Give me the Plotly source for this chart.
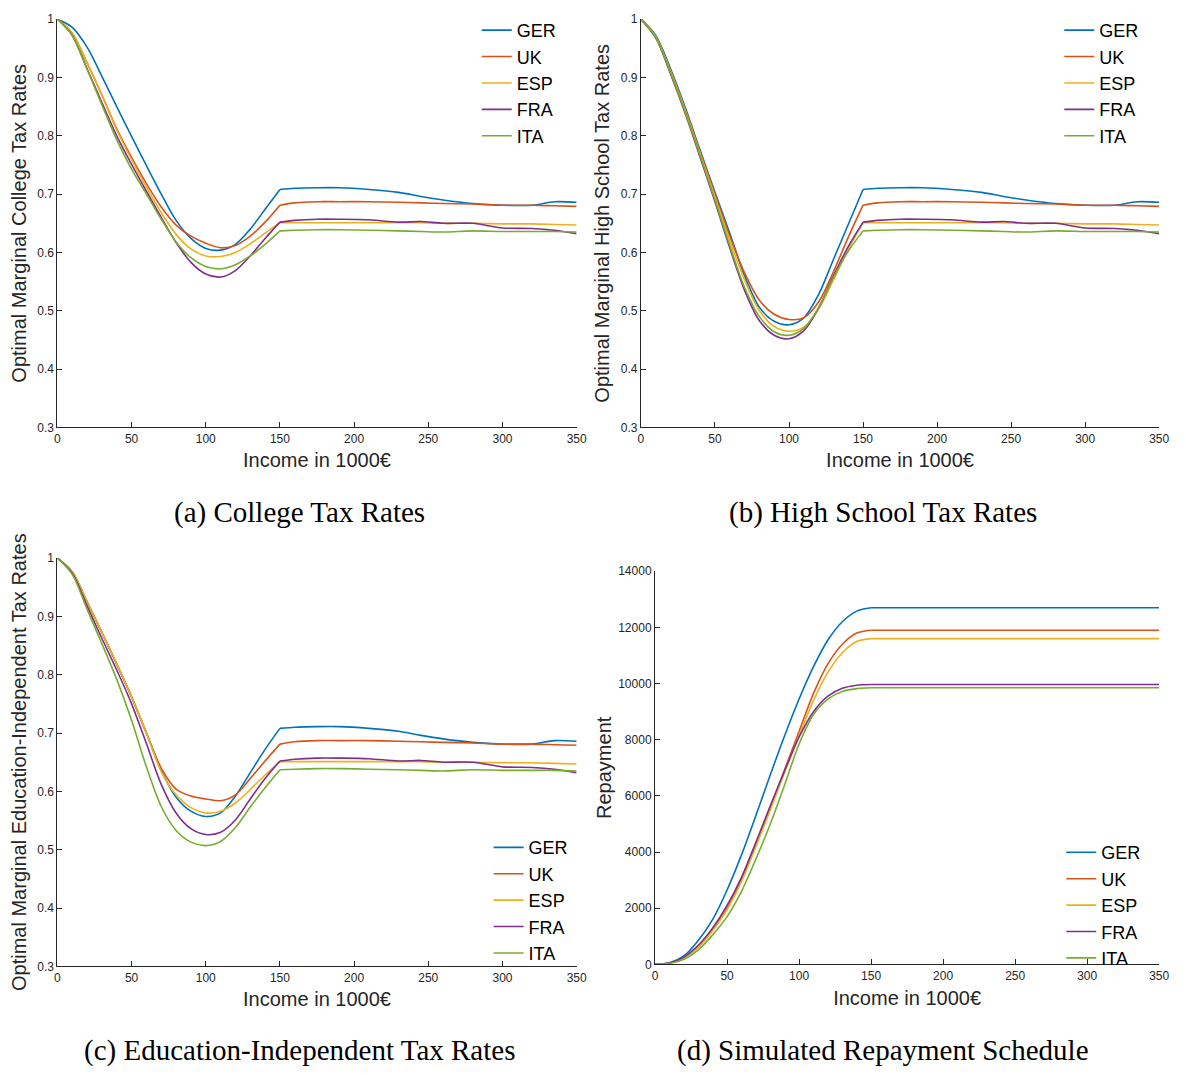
import plotly.graph_objects as go

countries = ["GER", "UK", "ESP", "FRA", "ITA"]
colors = ["#0072BD", "#D95319", "#EDB120", "#7E2F8E", "#77AC30"]

# income grid (1000 EUR)
x_head = [0, 10, 20, 30, 40, 50, 60, 70, 80, 90, 100, 110, 120, 130, 140, 150]
x_tail = [150, 160, 175, 190, 210, 230, 245, 260, 280, 300, 320, 335, 350]

# common top-income part of the optimal marginal tax rates (x >= 150)
tail_GER = [0.708, 0.710, 0.711, 0.711, 0.708, 0.703, 0.696, 0.690, 0.684, 0.681, 0.681, 0.687, 0.686]
tail_UK = [0.681, 0.685, 0.687, 0.687, 0.687, 0.686, 0.685, 0.684, 0.683, 0.681, 0.681, 0.680, 0.679]
tail_ESP = [0.651, 0.651, 0.651, 0.651, 0.651, 0.651, 0.651, 0.650, 0.650, 0.649, 0.649, 0.648, 0.647]
tail_FRA = [0.652, 0.655, 0.657, 0.657, 0.656, 0.652, 0.653, 0.650, 0.650, 0.642, 0.641, 0.638, 0.632]
tail_ITA = [0.637, 0.638, 0.639, 0.639, 0.638, 0.637, 0.636, 0.635, 0.637, 0.636, 0.636, 0.636, 0.635]

# (a) college tax rates, x = 0..150
college_GER = [1.0, 0.986, 0.952, 0.902, 0.850, 0.799, 0.749, 0.700, 0.655, 0.624, 0.607, 0.604, 0.614, 0.640, 0.674, 0.708]
college_UK = [1.0, 0.976, 0.925, 0.870, 0.812, 0.763, 0.718, 0.678, 0.647, 0.628, 0.616, 0.608, 0.612, 0.628, 0.652, 0.681]
college_ESP = [1.0, 0.976, 0.925, 0.869, 0.810, 0.759, 0.712, 0.668, 0.631, 0.606, 0.594, 0.593, 0.600, 0.615, 0.633, 0.651]
college_FRA = [1.0, 0.972, 0.915, 0.857, 0.800, 0.751, 0.705, 0.660, 0.617, 0.583, 0.563, 0.558, 0.569, 0.594, 0.624, 0.652]
college_ITA = [1.0, 0.972, 0.914, 0.853, 0.793, 0.743, 0.700, 0.657, 0.618, 0.591, 0.576, 0.572, 0.579, 0.594, 0.614, 0.637]

# (b) high school tax rates, x = 0..150
school_GER = [1.0, 0.972, 0.915, 0.848, 0.775, 0.703, 0.633, 0.560, 0.506, 0.482, 0.476, 0.488, 0.528, 0.588, 0.648, 0.708]
school_UK = [1.0, 0.970, 0.912, 0.845, 0.772, 0.700, 0.628, 0.565, 0.518, 0.494, 0.485, 0.488, 0.515, 0.567, 0.626, 0.681]
school_ESP = [1.0, 0.970, 0.910, 0.843, 0.769, 0.695, 0.620, 0.553, 0.500, 0.473, 0.465, 0.472, 0.503, 0.553, 0.605, 0.651]
school_FRA = [1.0, 0.968, 0.906, 0.838, 0.763, 0.687, 0.608, 0.535, 0.483, 0.458, 0.452, 0.466, 0.505, 0.560, 0.610, 0.652]
school_ITA = [1.0, 0.969, 0.908, 0.840, 0.766, 0.690, 0.612, 0.540, 0.490, 0.464, 0.458, 0.470, 0.505, 0.557, 0.602, 0.637]

# (c) education-independent tax rates, x = 0..150
indep_GER = [1.0, 0.976, 0.925, 0.872, 0.818, 0.762, 0.700, 0.636, 0.590, 0.566, 0.557, 0.563, 0.592, 0.632, 0.672, 0.708]
indep_UK = [1.0, 0.976, 0.925, 0.872, 0.818, 0.762, 0.700, 0.640, 0.604, 0.592, 0.587, 0.584, 0.594, 0.622, 0.652, 0.681]
indep_ESP = [1.0, 0.976, 0.925, 0.872, 0.818, 0.762, 0.700, 0.634, 0.594, 0.572, 0.563, 0.566, 0.580, 0.603, 0.628, 0.651]
indep_FRA = [1.0, 0.974, 0.918, 0.862, 0.808, 0.750, 0.682, 0.612, 0.563, 0.536, 0.526, 0.530, 0.551, 0.587, 0.622, 0.652]
indep_ITA = [1.0, 0.972, 0.912, 0.853, 0.792, 0.722, 0.642, 0.574, 0.533, 0.513, 0.507, 0.514, 0.538, 0.573, 0.606, 0.637]

# (d) simulated repayment schedule, x = 0..150, then flat
x_rep_tail = [150, 350]
repay_GER = [0, 60, 300, 850, 1600, 2650, 3900, 5300, 6750, 8150, 9450, 10600, 11550, 12200, 12580, 12700]
repay_UK = [0, 45, 240, 640, 1250, 2000, 3000, 4250, 5550, 6950, 8300, 9650, 10700, 11400, 11800, 11900]
repay_ESP = [0, 40, 225, 610, 1200, 1950, 2950, 4200, 5500, 6850, 8150, 9400, 10400, 11100, 11500, 11600]
repay_FRA = [0, 50, 260, 680, 1300, 2100, 3100, 4350, 5650, 6900, 8100, 9000, 9550, 9830, 9940, 9965]
repay_ITA = [0, 30, 180, 520, 1050, 1700, 2600, 3750, 5000, 6400, 7850, 8900, 9450, 9720, 9820, 9850]

x_ticks = [0, 50, 100, 150, 200, 250, 300, 350]
rate_ticks = [0.3, 0.4, 0.5, 0.6, 0.7, 0.8, 0.9, 1.0]
repay_ticks = [0, 2000, 4000, 6000, 8000, 10000, 12000, 14000]

tails = [tail_GER, tail_UK, tail_ESP, tail_FRA, tail_ITA]
panels = [
    ([college_GER, college_UK, college_ESP, college_FRA, college_ITA], "x", "y", "legend"),
    ([school_GER, school_UK, school_ESP, school_FRA, school_ITA], "x2", "y2", "legend2"),
    ([indep_GER, indep_UK, indep_ESP, indep_FRA, indep_ITA], "x3", "y3", "legend3"),
]

fig = go.Figure()
LW = 1.6
SM = 0.9

for heads, xa, ya, lg in panels:
    for i, c in enumerate(countries):
        fig.add_trace(go.Scatter(
            x=x_head, y=heads[i], mode="lines", name=c,
            line=dict(color=colors[i], width=LW, shape="spline", smoothing=SM),
            xaxis=xa, yaxis=ya, legend=lg, legendgroup=lg + c, showlegend=True,
            hoverinfo="skip"))
        fig.add_trace(go.Scatter(
            x=x_tail, y=tails[i], mode="lines", name=c,
            line=dict(color=colors[i], width=LW, shape="spline", smoothing=SM),
            xaxis=xa, yaxis=ya, legend=lg, legendgroup=lg + c, showlegend=False,
            hoverinfo="skip"))

repays = [repay_GER, repay_UK, repay_ESP, repay_FRA, repay_ITA]
for i, c in enumerate(countries):
    fig.add_trace(go.Scatter(
        x=x_head, y=repays[i], mode="lines", name=c,
        line=dict(color=colors[i], width=LW, shape="spline", smoothing=SM),
        xaxis="x4", yaxis="y4", legend="legend4", legendgroup="d" + c,
        hoverinfo="skip"))
    fig.add_trace(go.Scatter(
        x=x_rep_tail, y=[repays[i][-1], repays[i][-1]], mode="lines", name=c,
        line=dict(color=colors[i], width=LW),
        xaxis="x4", yaxis="y4", legend="legend4", legendgroup="d" + c,
        showlegend=False, hoverinfo="skip"))

W, H = 1186, 1075
AX = "#262626"
SANS = "Liberation Sans, Arial, Helvetica, sans-serif"
SERIF = "Liberation Serif, Times New Roman, serif"


def px_x(a, b):
    return [a / W, b / W]


def px_y(top, bottom):
    return [1 - bottom / H, 1 - top / H]


def xaxis(dom, anchor, standoff):
    return dict(domain=dom, anchor=anchor, range=[0, 350], tickvals=x_ticks,
                showline=True, linecolor=AX, linewidth=1.2, ticks="inside",
                ticklen=5, tickcolor=AX, tickwidth=1, showgrid=False, zeroline=False,
                tickfont=dict(family=SANS, size=12, color=AX),
                title=dict(text="Income in 1000€", font=dict(family=SANS, size=20, color=AX), standoff=standoff))


def yaxis(dom, anchor, title, rng, ticks, fmt, standoff):
    return dict(domain=dom, anchor=anchor, range=rng, tickvals=ticks, tickformat=fmt,
                showline=True, linecolor=AX, linewidth=1.2, ticks="inside",
                ticklen=5, tickcolor=AX, tickwidth=1, showgrid=False, zeroline=False,
                tickfont=dict(family=SANS, size=12, color=AX),
                title=dict(text=title, font=dict(family=SANS, size=20, color=AX), standoff=standoff))


xa_dom = px_x(55, 580)
xb_dom = px_x(645, 1169)
xd_dom = px_x(659.3, 1169)
ytop_dom = px_y(12.3, 426)
yc_dom = px_y(558.3, 972)
yd_dom = px_y(571.7, 970)

legend_common = dict(bgcolor="rgba(0,0,0,0)", borderwidth=0,
                     font=dict(family=SANS, size=18, color="#000000"),
                     xanchor="left", yanchor="top", tracegroupgap=0)

subtitle_font = dict(family=SERIF, size=29, color="#000000")

fig.update_layout(
    width=W, height=H, margin=dict(l=0, r=0, t=0, b=0),
    paper_bgcolor="white", plot_bgcolor="white",
    xaxis=xaxis(xa_dom, "y", 8),
    yaxis=yaxis(ytop_dom, "x", "Optimal Marginal College Tax Rates", [0.3, 1.0], rate_ticks, "", 5),
    xaxis2=xaxis(xb_dom, "y2", 8),
    yaxis2=yaxis(ytop_dom, "x2", "Optimal Marginal High School Tax Rates", [0.3, 1.0], rate_ticks, "", 5),
    xaxis3=xaxis(xa_dom, "y3", 8),
    yaxis3=yaxis(yc_dom, "x3", "Optimal Marginal Education-Independent Tax Rates", [0.3, 1.0], rate_ticks, "", 5),
    xaxis4=xaxis(xd_dom, "y4", 9),
    yaxis4=yaxis(yd_dom, "x4", "Repayment", [0, 14000], repay_ticks, "d", 1),
    legend=dict(legend_common, x=479 / W, y=1 - 5 / H),
    legend2=dict(legend_common, x=1068 / W, y=1 - 5 / H),
    legend3=dict(legend_common, x=491 / W, y=1 - 833 / H),
    legend4=dict(legend_common, x=1070 / W, y=1 - 838 / H),
    annotations=[
        dict(text="(a) College Tax Rates", x=300 / W, y=1 - 512 / H, xref="paper", yref="paper",
             showarrow=False, xanchor="center", yanchor="middle", font=subtitle_font),
        dict(text="(b) High School Tax Rates", x=890 / W, y=1 - 512 / H, xref="paper", yref="paper",
             showarrow=False, xanchor="center", yanchor="middle", font=subtitle_font),
        dict(text="(c) Education-Independent Tax Rates", x=300 / W, y=1 - 1057 / H, xref="paper", yref="paper",
             showarrow=False, xanchor="center", yanchor="middle", font=subtitle_font),
        dict(text="(d) Simulated Repayment Schedule", x=890 / W, y=1 - 1057 / H, xref="paper", yref="paper",
             showarrow=False, xanchor="center", yanchor="middle", font=subtitle_font),
    ],
)

fig.write_html("out.html")
